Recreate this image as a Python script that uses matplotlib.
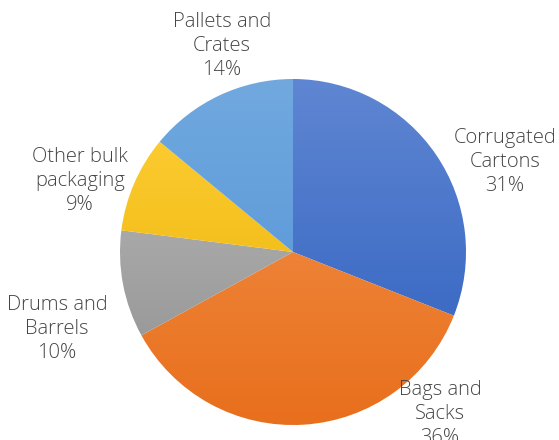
import numpy as np
import matplotlib
matplotlib.use("Agg")
import matplotlib.pyplot as plt
from matplotlib.colors import LinearSegmentedColormap

# packaging share data, clockwise from 12 o'clock
labels = ["Corrugated\nCartons", "Bags and\nSacks", "Drums and\nBarrels",
          "Other bulk\npackaging", "Pallets and\nCrates"]
shares = [31, 36, 10, 9, 14]

# gradient colours (top, bottom) per slice
tops = ["#5f86d2", "#f39550", "#bdbdbd", "#ffd13a", "#71a9df"]
bottoms = ["#2d5fbf", "#e86f1c", "#8e8e8e", "#e9ae00", "#4f90d6"]

# label anchor points in pixels
label_xy = [(505, 162), (440, 414), (57, 329), (80, 181), (222, 46)]

W, H = 559, 440
fig = plt.figure(figsize=(W / 100, H / 100), dpi=100)
ax = fig.add_axes([0, 0, 1, 1])

cx, cy, r = 293, H - 252, 173
wedges, _ = ax.pie(shares, startangle=90, counterclock=False,
                   center=(cx, cy), radius=r, frame=True,
                   wedgeprops=dict(linewidth=0))

grad = np.linspace(0, 1, 256).reshape(-1, 1)
for w, c1, c2 in zip(wedges, tops, bottoms):
    w.set_facecolor("none")
    cmap = LinearSegmentedColormap.from_list("g", [c1, c2])
    im = ax.imshow(grad, cmap=cmap, extent=(cx - r, cx + r, cy - r, cy + r),
                   origin="upper", aspect="auto", interpolation="bilinear")
    im.set_clip_path(w)

for (txt, pct), (x, y) in zip(zip(labels, shares), label_xy):
    ax.text(x, H - y, f"{txt}\n{pct}%", ha="center", va="center",
            fontsize=14.5, color="#454545", family="Open Sans", weight="light",
            linespacing=1.24)

ax.set_xlim(0, W)
ax.set_ylim(0, H)
ax.set_aspect("auto")
ax.axis("off")
fig.savefig("out.png", dpi=100)
